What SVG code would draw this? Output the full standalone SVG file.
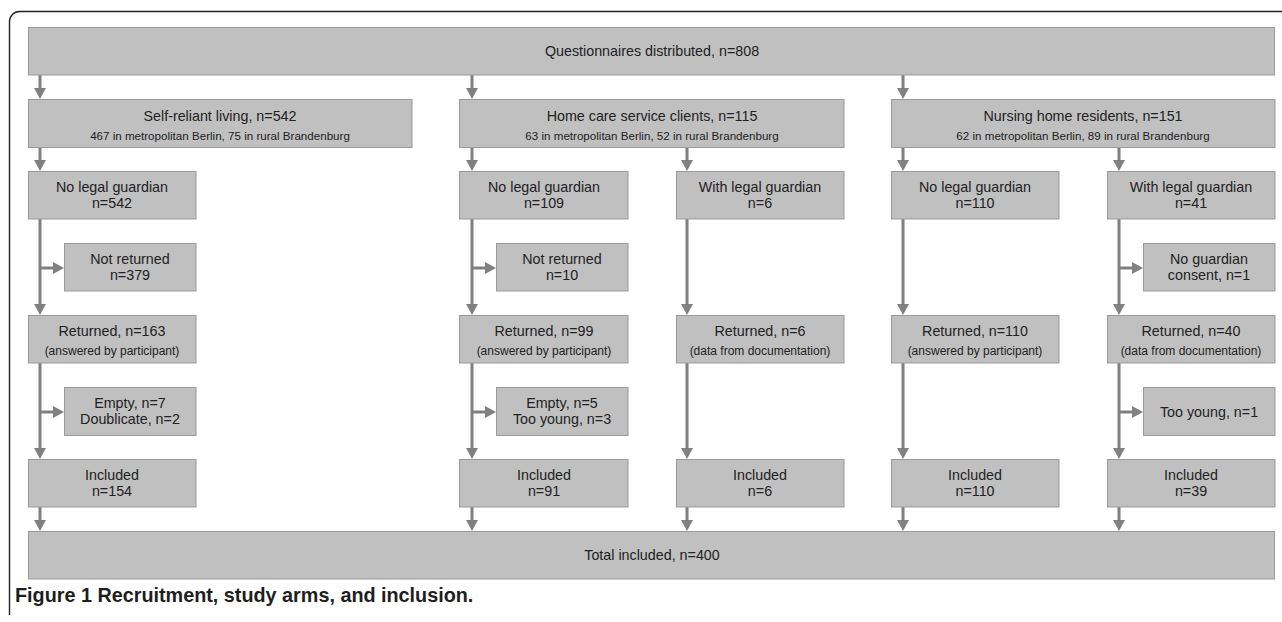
<svg xmlns="http://www.w3.org/2000/svg" width="1282" height="622" viewBox="0 0 1282 622">
<style>
.box{fill:#c0c0c0;stroke:#9a9a9a;stroke-width:1}
.t{font-family:"Liberation Sans",Arial,sans-serif;font-size:14.3px;fill:#222;text-anchor:middle}
.s{font-family:"Liberation Sans",Arial,sans-serif;font-size:11.6px;fill:#222;text-anchor:middle}
.p{font-family:"Liberation Sans",Arial,sans-serif;font-size:12px;fill:#222;text-anchor:middle}
.c{stroke:#808080;stroke-width:3;fill:none;marker-end:url(#ah)}
.cap{font-family:"Liberation Sans",Arial,sans-serif;font-size:19.8px;font-weight:bold;fill:#1e1e1e}
</style>
<defs>
<marker id="ah" markerUnits="userSpaceOnUse" viewBox="0 0 11 12" markerWidth="11" markerHeight="12" refX="2" refY="6" orient="auto">
<path d="M0,0 L11,6 L0,12 z" fill="#808080"/>
</marker>
</defs>
<rect width="1282" height="622" fill="#fff"/>
<path d="M9.5,615 L9.5,21.5 A10,10 0 0 1 19.5,11.5 L1282,11.5" fill="none" stroke="#222" stroke-width="1.4"/>

<g id="connectors">
<line class="c" x1="40" y1="75" x2="40" y2="90"/>
<line class="c" x1="472" y1="75" x2="472" y2="90"/>
<line class="c" x1="903" y1="75" x2="903" y2="90"/>
<line class="c" x1="40" y1="148" x2="40" y2="162"/>
<line class="c" x1="472" y1="148" x2="472" y2="162"/>
<line class="c" x1="687" y1="148" x2="687" y2="162"/>
<line class="c" x1="903" y1="148" x2="903" y2="162"/>
<line class="c" x1="1119" y1="148" x2="1119" y2="162"/>
<line class="c" x1="40" y1="219" x2="40" y2="306"/>
<line class="c" x1="472" y1="219" x2="472" y2="306"/>
<line class="c" x1="687" y1="219" x2="687" y2="306"/>
<line class="c" x1="903" y1="219" x2="903" y2="306"/>
<line class="c" x1="1119" y1="219" x2="1119" y2="306"/>
<line class="c" x1="40" y1="268" x2="55" y2="268"/>
<line class="c" x1="472" y1="268" x2="487" y2="268"/>
<line class="c" x1="1119" y1="268" x2="1134" y2="268"/>
<line class="c" x1="40" y1="363" x2="40" y2="450"/>
<line class="c" x1="472" y1="363" x2="472" y2="450"/>
<line class="c" x1="687" y1="363" x2="687" y2="450"/>
<line class="c" x1="903" y1="363" x2="903" y2="450"/>
<line class="c" x1="1119" y1="363" x2="1119" y2="450"/>
<line class="c" x1="40" y1="412" x2="55" y2="412"/>
<line class="c" x1="472" y1="412" x2="487" y2="412"/>
<line class="c" x1="1119" y1="412" x2="1134" y2="412"/>
<line class="c" x1="40" y1="507" x2="40" y2="522"/>
<line class="c" x1="472" y1="507" x2="472" y2="522"/>
<line class="c" x1="687" y1="507" x2="687" y2="522"/>
<line class="c" x1="903" y1="507" x2="903" y2="522"/>
<line class="c" x1="1119" y1="507" x2="1119" y2="522"/>
</g>

<g id="distributed"><rect class="box" x="28.5" y="27.5" width="1246" height="47.5"/><text class="t" x="652" y="56">Questionnaires distributed, n=808</text></g>

<g id="selfreliant"><rect class="box" x="28.5" y="99.5" width="383.5" height="48"/><text class="t" x="220" y="120.5">Self-reliant living, n=542</text><text class="s" x="220" y="140">467 in metropolitan Berlin, 75 in rural Brandenburg</text></g>
<g id="homecare"><rect class="box" x="459.5" y="99.5" width="384.5" height="48"/><text class="t" x="652" y="120.5">Home care service clients, n=115</text><text class="s" x="652" y="140">63 in metropolitan Berlin, 52 in rural Brandenburg</text></g>
<g id="nursing"><rect class="box" x="891.5" y="99.5" width="383.5" height="48"/><text class="t" x="1083" y="120.5">Nursing home residents, n=151</text><text class="s" x="1083" y="140">62 in metropolitan Berlin, 89 in rural Brandenburg</text></g>

<g id="sr-nolegal"><rect class="box" x="28.5" y="171.5" width="167.5" height="47.5"/><text class="t" x="112" y="192">No legal guardian</text><text class="t" x="112" y="208">n=542</text></g>
<g id="hc-nolegal"><rect class="box" x="459.5" y="171.5" width="168.5" height="47.5"/><text class="t" x="544" y="192">No legal guardian</text><text class="t" x="544" y="208">n=109</text></g>
<g id="hc-withlegal"><rect class="box" x="676.5" y="171.5" width="167.5" height="47.5"/><text class="t" x="760" y="192">With legal guardian</text><text class="t" x="760" y="208">n=6</text></g>
<g id="nh-nolegal"><rect class="box" x="891.5" y="171.5" width="167.5" height="47.5"/><text class="t" x="975" y="192">No legal guardian</text><text class="t" x="975" y="208">n=110</text></g>
<g id="nh-withlegal"><rect class="box" x="1107.5" y="171.5" width="167.5" height="47.5"/><text class="t" x="1191" y="192">With legal guardian</text><text class="t" x="1191" y="208">n=41</text></g>

<g id="sr-notreturned"><rect class="box" x="64.5" y="243.5" width="131.5" height="47.5"/><text class="t" x="130" y="264">Not returned</text><text class="t" x="130" y="280">n=379</text></g>
<g id="hc-notreturned"><rect class="box" x="496.5" y="243.5" width="131.5" height="47.5"/><text class="t" x="562" y="264">Not returned</text><text class="t" x="562" y="280">n=10</text></g>
<g id="nh-noconsent"><rect class="box" x="1143.5" y="243.5" width="131.5" height="47.5"/><text class="t" x="1209" y="264">No guardian</text><text class="t" x="1209" y="280">consent, n=1</text></g>

<g id="sr-returned"><rect class="box" x="28.5" y="315.5" width="167.5" height="47.5"/><text class="t" x="112" y="336">Returned, n=163</text><text class="p" x="112" y="354.5">(answered by participant)</text></g>
<g id="hc-returned"><rect class="box" x="459.5" y="315.5" width="168.5" height="47.5"/><text class="t" x="544" y="336">Returned, n=99</text><text class="p" x="544" y="354.5">(answered by participant)</text></g>
<g id="hc-returned-g"><rect class="box" x="676.5" y="315.5" width="167.5" height="47.5"/><text class="t" x="760" y="336">Returned, n=6</text><text class="p" x="760" y="354.5">(data from documentation)</text></g>
<g id="nh-returned"><rect class="box" x="891.5" y="315.5" width="167.5" height="47.5"/><text class="t" x="975" y="336">Returned, n=110</text><text class="p" x="975" y="354.5">(answered by participant)</text></g>
<g id="nh-returned-g"><rect class="box" x="1107.5" y="315.5" width="167.5" height="47.5"/><text class="t" x="1191" y="336">Returned, n=40</text><text class="p" x="1191" y="354.5">(data from documentation)</text></g>

<g id="sr-empty"><rect class="box" x="64.5" y="387.5" width="131.5" height="48"/><text class="t" x="130" y="408">Empty, n=7</text><text class="t" x="130" y="424">Doublicate, n=2</text></g>
<g id="hc-empty"><rect class="box" x="496.5" y="387.5" width="131.5" height="48"/><text class="t" x="562" y="408">Empty, n=5</text><text class="t" x="562" y="424">Too young, n=3</text></g>
<g id="nh-young"><rect class="box" x="1143.5" y="387.5" width="131.5" height="48"/><text class="t" x="1209" y="416.5">Too young, n=1</text></g>

<g id="sr-included"><rect class="box" x="28.5" y="459.5" width="167.5" height="47.5"/><text class="t" x="112" y="480">Included</text><text class="t" x="112" y="496">n=154</text></g>
<g id="hc-included"><rect class="box" x="459.5" y="459.5" width="168.5" height="47.5"/><text class="t" x="544" y="480">Included</text><text class="t" x="544" y="496">n=91</text></g>
<g id="hc-included-g"><rect class="box" x="676.5" y="459.5" width="167.5" height="47.5"/><text class="t" x="760" y="480">Included</text><text class="t" x="760" y="496">n=6</text></g>
<g id="nh-included"><rect class="box" x="891.5" y="459.5" width="167.5" height="47.5"/><text class="t" x="975" y="480">Included</text><text class="t" x="975" y="496">n=110</text></g>
<g id="nh-included-g"><rect class="box" x="1107.5" y="459.5" width="167.5" height="47.5"/><text class="t" x="1191" y="480">Included</text><text class="t" x="1191" y="496">n=39</text></g>

<g id="total"><rect class="box" x="28.5" y="531.5" width="1246" height="47.5"/><text class="t" x="652" y="560">Total included, n=400</text></g>

<text class="cap" x="15" y="601.5">Figure 1 Recruitment, study arms, and inclusion.</text>
</svg>
